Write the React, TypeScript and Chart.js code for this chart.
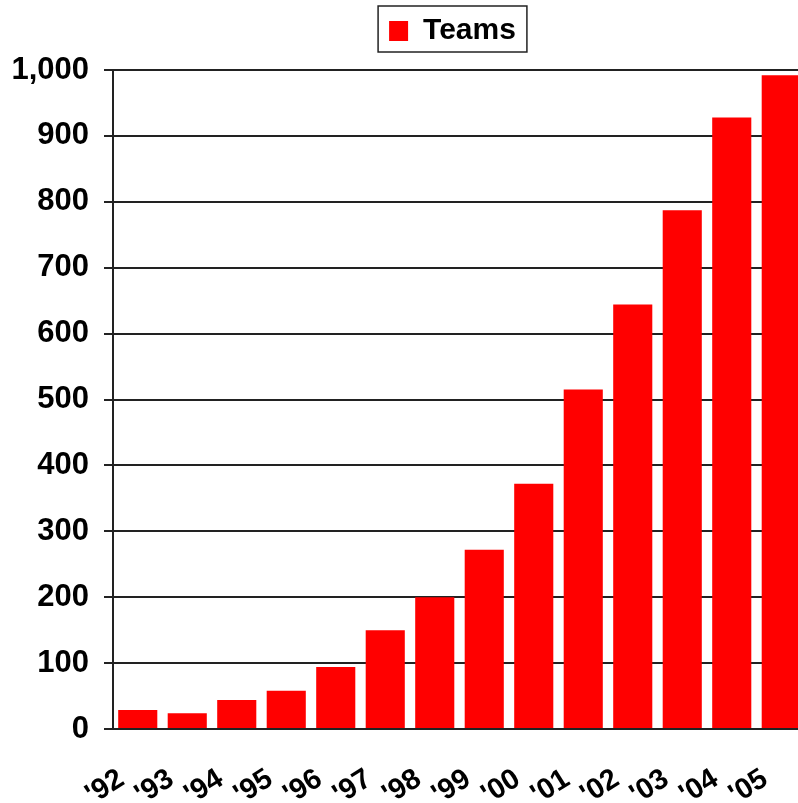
import React, { useEffect, useRef } from "react";
import { Chart, registerables } from "chart.js";

Chart.register(...registerables);

const categories = ["'92", "'93", "'94", "'95", "'96", "'97", "'98", "'99", "'00", "'01", "'02", "'03", "'04", "'05"];
const teams = [29, 24, 44, 58, 94, 150, 200, 272, 372, 515, 644, 787, 928, 992];
const seriesLabel = "Teams";
const yMin = 0;
const yMax = 1000;
const yStep = 100;

const FONT = "'Liberation Sans', Arial, Helvetica, sans-serif";

const legendPlugin = {
  id: "legendFrame",
  beforeLayout(chart: any) {
    const legend = chart.legend;
    if (legend && !legend.__patched) {
      const origFit = legend.fit;
      legend.fit = function () {
        origFit.call(this);
        this.height += 14;
      };
      legend.__patched = true;
    }
  },
  afterUpdate(chart: any) {
    const legend = chart.legend;
    if (!legend) return;
    const dx = -7;
    legend.left += dx;
    legend.right += dx;
    (legend.legendHitBoxes || []).forEach((hb: any) => {
      hb.left += dx;
    });
  },
  afterDraw(chart: any) {
    const legend = chart.legend;
    if (!legend || !legend.legendHitBoxes || !legend.legendHitBoxes.length) return;
    const hb = legend.legendHitBoxes[0];
    const ctx = chart.ctx;
    ctx.save();
    ctx.strokeStyle = "#222";
    ctx.lineWidth = 1.5;
    ctx.strokeRect(hb.left - 11, hb.top - 10, hb.width + 22, hb.height + 16);
    ctx.restore();
  },
};

export default function App() {
  const ref = useRef<HTMLCanvasElement | null>(null);

  useEffect(() => {
    document.body.style.margin = "0";
    const canvas = ref.current;
    if (!canvas) return;
    const chart = new Chart(canvas, {
      type: "bar",
      data: {
        labels: categories,
        datasets: [
          {
            label: seriesLabel,
            data: teams,
            backgroundColor: "#ff0000",
            borderWidth: 0,
            barPercentage: 0.79,
            categoryPercentage: 1,
          },
        ],
      },
      options: {
        responsive: false,
        animation: false,
        layout: { padding: { top: 6, left: 0, right: 0, bottom: 0 } },
        plugins: {
          legend: {
            display: true,
            position: "top",
            fullSize: false,
            labels: {
              color: "#000",
              boxWidth: 19,
              boxHeight: 20,
              padding: 10,
              font: { family: FONT, size: 30, weight: "bold" },
            },
          },
          tooltip: { enabled: false },
        },
        scales: {
          x: {
            grid: { display: false, drawTicks: true, tickLength: 30 },
            border: { display: false },
            ticks: {
              color: "#000",
              font: { family: FONT, size: 29, weight: "bold" },
              minRotation: 32,
              maxRotation: 32,
              autoSkip: false,
              padding: 3,
              labelOffset: -16,
            },
            afterFit(scale: any) {
              scale.height = 74;
            },
          },
          y: {
            min: yMin,
            max: yMax,
            grid: { color: "#222", lineWidth: 2, tickLength: 9, drawTicks: true },
            border: { display: true, color: "#222", width: 2 },
            ticks: {
              stepSize: yStep,
              color: "#000",
              padding: 15,
              font: { family: FONT, size: 31, weight: "bold" },
            },
            afterFit(scale: any) {
              scale.width = 113;
            },
          },
        },
      },
      plugins: [legendPlugin],
    });
    return () => chart.destroy();
  }, []);

  return (
    <div style={{ width: 798, height: 803, overflow: "hidden" }}>
      <canvas ref={ref} width={806} height={803} style={{ display: "block" }} />
    </div>
  );
}
